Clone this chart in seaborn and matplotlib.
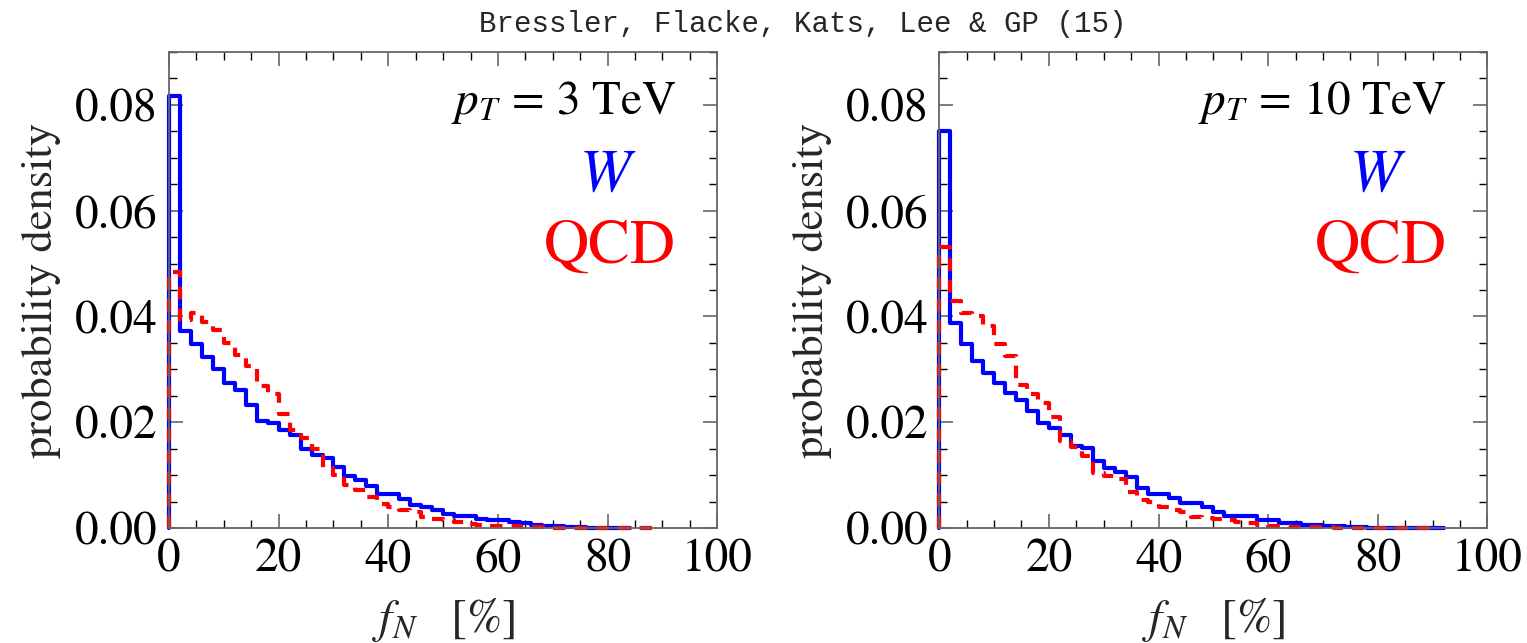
import numpy as np
import pandas as pd
import seaborn as sns
import matplotlib.pyplot as plt
from matplotlib.ticker import MultipleLocator, FormatStrFormatter

# f_N distributions, 2% wide bins starting at 0
bin_width = 2

w_3tev = [0.0817, 0.0373, 0.0348, 0.0324, 0.0300, 0.0274, 0.0261, 0.0233, 0.0203, 0.0198,
          0.0185, 0.0175, 0.0150, 0.0138, 0.0133, 0.0116, 0.0099, 0.0091, 0.0079, 0.0064,
          0.0064, 0.0054, 0.0043, 0.0040, 0.0034, 0.0026, 0.0023, 0.0023, 0.0018, 0.0015,
          0.0015, 0.0012, 0.0009, 0.0006, 0.0004, 0.0003, 0.0002, 0.0002, 0.0001, 0.0001,
          0.0001, 0.00005]
qcd_3tev = [0.0484, 0.0394, 0.0406, 0.0390, 0.0375, 0.0350, 0.0327, 0.0306, 0.0268, 0.0254,
            0.0216, 0.0186, 0.0171, 0.0149, 0.0114, 0.0101, 0.0081, 0.0072, 0.0058, 0.0045,
            0.0039, 0.0034, 0.0030, 0.0020, 0.0018, 0.0015, 0.0012, 0.0008, 0.0006, 0.0004,
            0.0004, 0.0003, 0.00025, 0.0002, 0.00013, 0.0001, 0.00008, 0.00007, 0.00006, 0.00005,
            0.00004, 0.00004, 0.00003, 0.00003]
w_10tev = [0.0751, 0.0387, 0.0348, 0.0315, 0.0293, 0.0274, 0.0255, 0.0242, 0.0222, 0.0198,
           0.0190, 0.0175, 0.0155, 0.0152, 0.0127, 0.0114, 0.0105, 0.0096, 0.0075, 0.0065,
           0.0065, 0.0057, 0.0048, 0.0047, 0.0039, 0.0030, 0.0023, 0.0023, 0.0023, 0.0015,
           0.0015, 0.0010, 0.0010, 0.0006, 0.0006, 0.0004, 0.0004, 0.0002, 0.0002, 0.0001,
           0.0001, 0.0001, 0.0001, 0.0001, 0.0001, 0.0001]
qcd_10tev = [0.0532, 0.0430, 0.0407, 0.0401, 0.0382, 0.0348, 0.0325, 0.0270, 0.0253, 0.0237,
             0.0210, 0.0165, 0.0153, 0.0136, 0.0104, 0.0098, 0.0092, 0.0068, 0.0053, 0.0050,
             0.0040, 0.0035, 0.0030, 0.0021, 0.0019, 0.0017, 0.0015, 0.0011, 0.0009, 0.0006,
             0.00044, 0.0003, 0.00025, 0.0002, 0.00018, 0.00012, 0.0001, 0.00008, 0.00007, 0.00006,
             0.00005, 0.00004, 0.00004, 0.00003, 0.00003]

panels = [("3", w_3tev, qcd_3tev), ("10", w_10tev, qcd_10tev)]

sns.set_theme(style="ticks")
plt.rcParams['font.family'] = ['STIXGeneral', 'DejaVu Serif']
plt.rcParams['mathtext.fontset'] = 'stix'


def draw_hist(ax, values, **kw):
    values = np.asarray(values)
    n = len(values)
    centers = np.arange(n) * bin_width + bin_width / 2
    # tiny empty bins on both sides so the step outline drops to zero
    edges = [-0.05] + list(range(0, n * bin_width + 1, bin_width)) + [n * bin_width + 0.05]
    df = pd.DataFrame({"fN": centers, "p": values})
    sns.histplot(data=df, x="fN", weights="p", bins=edges, element="step", fill=False,
                 ax=ax, clip_on=False, **kw)


fig = plt.figure(figsize=(15.27, 6.43), dpi=100)
lefts = [0.1107, 0.6151]
spine_col = '#666666'

for left, (pt, w_vals, q_vals) in zip(lefts, panels):
    ax = fig.add_axes([left, 0.1788, 0.3590, 0.7403])
    draw_hist(ax, w_vals, color=(0, 0, 1), linewidth=3)
    draw_hist(ax, q_vals, color=(1, 0, 0), linewidth=3, dashes=(3.0, 2.2))

    ax.set_xlim(0, 100)
    ax.set_ylim(0, 0.09)
    ax.xaxis.set_major_locator(MultipleLocator(20))
    ax.xaxis.set_minor_locator(MultipleLocator(5))
    ax.yaxis.set_major_locator(MultipleLocator(0.02))
    ax.yaxis.set_minor_locator(MultipleLocator(0.005))
    ax.yaxis.set_major_formatter(FormatStrFormatter('%.2f'))
    ax.tick_params(which='both', direction='in', top=True, right=True,
                   labelsize=34, colors='black')
    ax.tick_params(which='major', length=10, width=1.2, color=spine_col, pad=8)
    ax.tick_params(which='minor', length=6, width=1.0, color='black')
    for s in ax.spines.values():
        s.set_color(spine_col)
        s.set_linewidth(1.3)

    ax.set_xlabel(r"$f_N\ \ \ [\%]$", fontsize=34, labelpad=10)
    ax.set_ylabel("probability density", fontsize=32, labelpad=10)

    ax.text(92.5, 0.0782, r"$p_T\,=\,%s\ \mathrm{TeV}$" % pt, fontsize=34,
            ha='right', va='baseline', color='black')
    ax.text(80, 0.0638, r"$W$", fontsize=44, ha='center', va='baseline', color=(0, 0, 1))
    ax.text(80.5, 0.0502, "QCD", fontsize=45, ha='center', va='baseline', color=(1, 0, 0))

fig.text(0.526, 0.963, "Bressler, Flacke, Kats, Lee & GP (15)", family='Liberation Mono',
         fontsize=21, ha='center', va='center')

fig.savefig("out.png", dpi=100)
